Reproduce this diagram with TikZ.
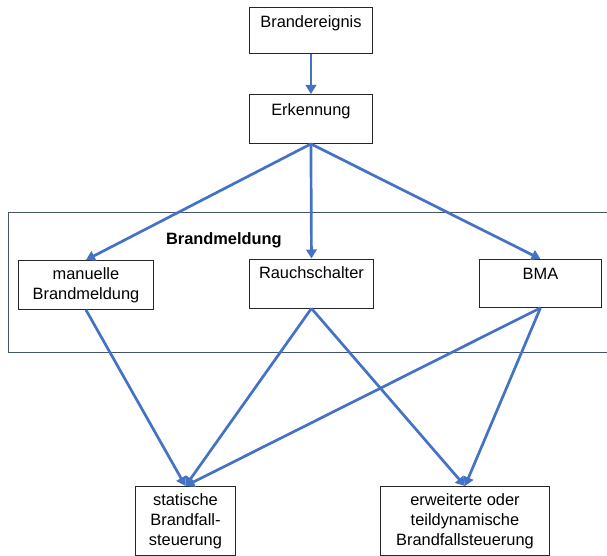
\documentclass[tikz,border=0pt]{standalone}
\usepackage{fontspec}
\setmainfont{Liberation Sans}
\usetikzlibrary{arrows.meta}
\definecolor{arrblue}{RGB}{68,114,196}
\definecolor{grpcol}{RGB}{68,84,106}
\begin{document}
\begin{tikzpicture}[x=1pt,y=-1pt,
  font=\fontsize{16.4}{20}\selectfont,
  box/.style={draw=black!85,line width=0.9pt,inner sep=0pt,align=center,anchor=north west},
  conn/.style={draw=arrblue,line width=2.7pt,-{Triangle[length=9pt,width=10.5pt]}},
  grp/.style={draw=grpcol,line width=1pt,inner sep=0pt,anchor=north west}]
\useasboundingbox (0,0) rectangle (607,556);
\node[grp,minimum width=620pt,minimum height=140pt] (grpbox) at (8,212) {};
\node[anchor=base west,font=\fontsize{16.4}{20}\selectfont\bfseries] (grplabel) at (162.5,244.3) {Brandmeldung};
\node[box,minimum width=123pt,text height=20.5pt,text depth=25.5pt] (ev) at (249,7) {Brandereignis};
\node[box,minimum width=123pt,text height=21pt,text depth=28pt] (erk) at (249,94) {Erkennung};
\node[box,minimum width=135pt,minimum height=49pt] (man) at (18,260) {manuelle\\Brandmeldung};
\node[box,minimum width=124pt,text height=20pt,text depth=29pt] (rauch) at (249,258.5) {Rauchschalter};
\node[box,minimum width=122pt,text height=20pt,text depth=28pt] (bma) at (479,259) {BMA};
\node[box,minimum width=100pt,minimum height=69pt] (stat) at (135,486) {statische\\Brandfall-\\steuerung};
\node[box,minimum width=169pt,minimum height=69pt] (erw) at (380,486) {erweiterte oder\\teildynamische\\Brandfallsteuerung};
\draw[conn] (ev.south) -- (erk.north);
\draw[conn] (erk.south) -- (man.north);
\draw[conn] (erk.south) -- (rauch.north);
\draw[conn] (erk.south) -- (bma.north);
\draw[conn] (man.south) -- (stat.north);
\draw[conn] (rauch.south) -- (stat.north);
\draw[conn] (rauch.south) -- (erw.north);
\draw[conn] (bma.south) -- (stat.north);
\draw[conn] (bma.south) -- (erw.north);
\end{tikzpicture}
\end{document}
